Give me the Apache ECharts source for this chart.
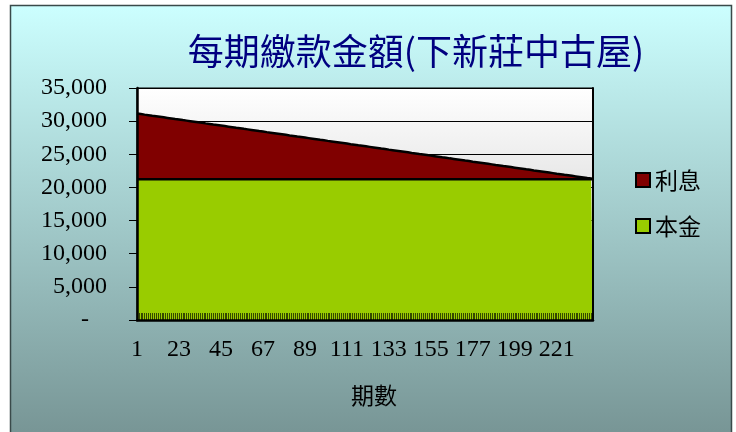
<!DOCTYPE html>
<html>
<head>
<meta charset="utf-8">
<script src="https://cdn.jsdelivr.net/npm/echarts@6/dist/echarts.min.js"></script>
<style>
html,body{margin:0;padding:0;background:#ffffff;}
#chart{width:736px;height:432px;}
</style>
</head>
<body>
<div id="chart"></div>
<script>
// ---- data ----
var titleText = '每期繳款金額(下新莊中古屋)';
var seriesNames = ['本金', '利息'];
var xAxisName = '期數';
var yTicks = [0, 5000, 10000, 15000, 20000, 25000, 30000, 35000];

// periods 1..240
var periods = [];
for (var i = 1; i <= 240; i++) periods.push(String(i));

// principal per period (本金)
var principal = [
21250,21250,21250,21250,21250,21250,21250,21250,21250,21250,
21250,21250,21250,21250,21250,21250,21250,21250,21250,21250,
21250,21250,21250,21250,21250,21250,21250,21250,21250,21250,
21250,21250,21250,21250,21250,21250,21250,21250,21250,21250,
21250,21250,21250,21250,21250,21250,21250,21250,21250,21250,
21250,21250,21250,21250,21250,21250,21250,21250,21250,21250,
21250,21250,21250,21250,21250,21250,21250,21250,21250,21250,
21250,21250,21250,21250,21250,21250,21250,21250,21250,21250,
21250,21250,21250,21250,21250,21250,21250,21250,21250,21250,
21250,21250,21250,21250,21250,21250,21250,21250,21250,21250,
21250,21250,21250,21250,21250,21250,21250,21250,21250,21250,
21250,21250,21250,21250,21250,21250,21250,21250,21250,21250,
21250,21250,21250,21250,21250,21250,21250,21250,21250,21250,
21250,21250,21250,21250,21250,21250,21250,21250,21250,21250,
21250,21250,21250,21250,21250,21250,21250,21250,21250,21250,
21250,21250,21250,21250,21250,21250,21250,21250,21250,21250,
21250,21250,21250,21250,21250,21250,21250,21250,21250,21250,
21250,21250,21250,21250,21250,21250,21250,21250,21250,21250,
21250,21250,21250,21250,21250,21250,21250,21250,21250,21250,
21250,21250,21250,21250,21250,21250,21250,21250,21250,21250,
21250,21250,21250,21250,21250,21250,21250,21250,21250,21250,
21250,21250,21250,21250,21250,21250,21250,21250,21250,21250,
21250,21250,21250,21250,21250,21250,21250,21250,21250,21250,
21250,21250,21250,21250,21250,21250,21250,21250,21250,21250
];

// interest per period (利息)
var interest = [
9900,9859,9818,9776, 9735,9694,9653,9611, 9570,9529,9488,9446,
9405,9364,9323,9281, 9240,9199,9158,9116, 9075,9034,8993,8951,
8910,8869,8828,8786, 8745,8704,8663,8621, 8580,8539,8498,8456,
8415,8374,8333,8291, 8250,8209,8168,8126, 8085,8044,8003,7961,
7920,7879,7838,7796, 7755,7714,7673,7631, 7590,7549,7508,7466,
7425,7384,7343,7301, 7260,7219,7178,7136, 7095,7054,7013,6971,
6930,6889,6848,6806, 6765,6724,6683,6641, 6600,6559,6518,6476,
6435,6394,6353,6311, 6270,6229,6188,6146, 6105,6064,6023,5981,
5940,5899,5858,5816, 5775,5734,5693,5651, 5610,5569,5528,5486,
5445,5404,5363,5321, 5280,5239,5198,5156, 5115,5074,5033,4991,
4950,4909,4868,4826, 4785,4744,4703,4661, 4620,4579,4538,4496,
4455,4414,4373,4331, 4290,4249,4208,4166, 4125,4084,4043,4001,
3960,3919,3878,3836, 3795,3754,3713,3671, 3630,3589,3548,3506,
3465,3424,3383,3341, 3300,3259,3218,3176, 3135,3094,3053,3011,
2970,2929,2888,2846, 2805,2764,2723,2681, 2640,2599,2558,2516,
2475,2434,2393,2351, 2310,2269,2228,2186, 2145,2104,2063,2021,
1980,1939,1898,1856, 1815,1774,1733,1691, 1650,1609,1568,1526,
1485,1444,1403,1361, 1320,1279,1238,1196, 1155,1114,1073,1031,
990,949,908,866, 825,784,743,701, 660,619,578,536,
495,454,413,371, 330,289,248,206, 165,124,83,41
];

// ---- chart ----
var serifFont = "'Liberation Serif','Times New Roman','Noto Sans CJK TC',serif";
var cjkFont = "'Noto Sans CJK TC','Noto Sans CJK SC',sans-serif";

var chart = echarts.init(document.getElementById('chart'), null, {renderer: 'canvas'});
chart.setOption({
  animation: false,
  backgroundColor: '#ffffff',
  graphic: [{
    type: 'rect',
    silent: true,
    z: -100,
    shape: {x: 10.5, y: 5.5, width: 721, height: 445},
    style: {
      fill: new echarts.graphic.LinearGradient(0, 0, 0, 1, [
        {offset: 0, color: '#ccffff'},
        {offset: 1, color: '#749191'}
      ]),
      stroke: '#3a4a4a',
      lineWidth: 1.5
    }
  }],
  title: {
    text: titleText,
    left: 411,
    textAlign: 'center',
    top: 28,
    textStyle: {
      fontFamily: cjkFont,
      fontSize: 36,
      fontWeight: 'normal',
      color: '#000080'
    }
  },
  legend: {
    data: ['利息', '本金'],
    orient: 'vertical',
    left: 630,
    top: 163,
    itemWidth: 14,
    itemHeight: 14,
    itemGap: 22,
    icon: 'rect',
    itemStyle: {borderColor: '#000000', borderWidth: 2},
    textStyle: {
      fontFamily: cjkFont,
      fontSize: 23,
      lineHeight: 24,
      color: '#000000'
    }
  },
  grid: {
    left: 137,
    right: 143,
    top: 88,
    bottom: 112,
    show: true,
    borderColor: '#000000',
    borderWidth: 1,
    backgroundColor: new echarts.graphic.LinearGradient(0, 0, 0, 1, [
      {offset: 0, color: '#ffffff'},
      {offset: 1, color: '#c4c4c4'}
    ])
  },
  xAxis: {
    type: 'category',
    data: periods,
    boundaryGap: false,
    z: 5,
    name: xAxisName,
    nameLocation: 'middle',
    nameGap: 64,
    nameTextStyle: {
      fontFamily: cjkFont,
      fontSize: 23,
      color: '#000000',
      padding: [0, 0, 0, 18]
    },
    axisLine: {lineStyle: {color: '#000000', width: 2.5}},
    axisTick: {
      show: true,
      inside: true,
      length: 7,
      interval: 0,
      lineStyle: {color: 'rgba(0,0,0,0.65)', width: 1}
    },
    axisLabel: {
      interval: 21,
      margin: 18,
      fontFamily: serifFont,
      fontSize: 24,
      color: '#000000',
      hideOverlap: false
    },
    splitLine: {show: false}
  },
  yAxis: [
    {
      type: 'value',
      min: yTicks[0],
      max: yTicks[yTicks.length - 1],
      interval: 5000,
      position: 'left',
      axisLine: {show: false},
      axisTick: {show: false},
      axisLabel: {
        margin: 30,
        fontFamily: serifFont,
        fontSize: 24,
        color: '#000000',
        formatter: function (v) {
          if (v === 0) return '-   ';
          return v.toLocaleString('en-US');
        }
      },
      splitLine: {show: true, lineStyle: {color: '#000000', width: 1}}
    },
    {
      type: 'value',
      min: yTicks[0],
      max: yTicks[yTicks.length - 1],
      interval: 5000,
      position: 'left',
      offset: 0,
      z: 5,
      axisLine: {show: true, onZero: false, lineStyle: {color: '#000000', width: 2.5}},
      axisTick: {show: true, inside: false, length: 8, lineStyle: {color: '#000000', width: 1}},
      axisLabel: {show: false},
      splitLine: {show: false}
    },
    {
      type: 'value',
      min: yTicks[0],
      max: yTicks[yTicks.length - 1],
      interval: 5000,
      position: 'right',
      offset: 0,
      z: 5,
      axisLine: {show: true, onZero: false, lineStyle: {color: '#000000', width: 2}},
      axisTick: {show: false},
      axisLabel: {show: false},
      splitLine: {show: false}
    }
  ],
  series: [
    {
      name: seriesNames[0],
      type: 'line',
      stack: 'total',
      yAxisIndex: 0,
      data: principal,
      showSymbol: false,
      symbol: 'none',
      lineStyle: {color: '#000000', width: 2.5},
      itemStyle: {color: '#99cc00', borderColor: '#000000', borderWidth: 2},
      areaStyle: {color: '#99cc00', opacity: 1},
      z: 2
    },
    {
      name: seriesNames[1],
      type: 'line',
      stack: 'total',
      yAxisIndex: 0,
      data: interest,
      showSymbol: false,
      symbol: 'none',
      lineStyle: {color: '#000000', width: 2.5},
      itemStyle: {color: '#800000', borderColor: '#000000', borderWidth: 2},
      areaStyle: {color: '#800000', opacity: 1},
      z: 1
    }
  ]
});
</script>
</body>
</html>
